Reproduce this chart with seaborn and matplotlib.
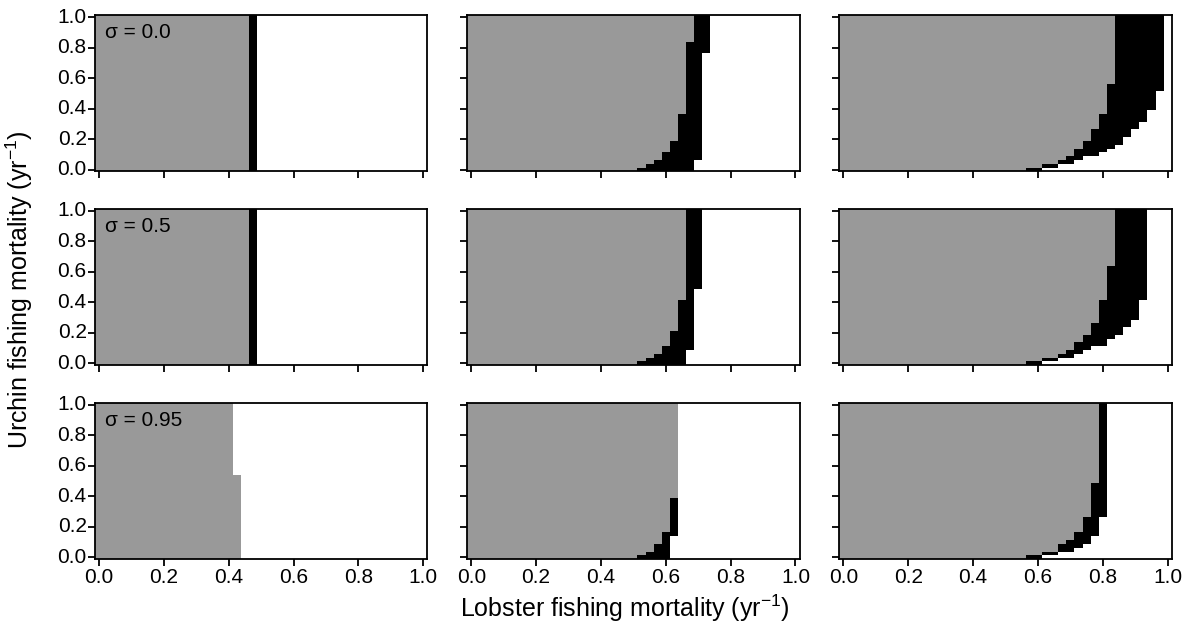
import numpy as np
import pandas as pd
import matplotlib
matplotlib.use("Agg")
import matplotlib.pyplot as plt
import seaborn as sns
from matplotlib.colors import ListedColormap

# ---------------- data ----------------
# grid of fishing mortalities (yr^-1), step 0.025
step = 0.025
lobster_F = np.round(np.arange(0, 41) * step, 3)
urchin_F = np.round(np.arange(0, 41) * step, 3)

sigma_labels = ["σ = 0.0", "σ = 0.5", "σ = 0.95"]
tick_values = [0.0, 0.2, 0.4, 0.6, 0.8, 1.0]
tick_labels = ["0.0", "0.2", "0.4", "0.6", "0.8", "1.0"]

# each entry: (urchin F where step begins, last lobster F inside region)
# gray region = left of gray edge; black band = between gray edge and black edge
gray_edge_00 = [(0.0, 0.45)]
black_edge_00 = [(0.0, 0.475)]
gray_edge_01 = [(0.0, 0.5), (0.025, 0.525), (0.05, 0.55), (0.075, 0.575),
                (0.125, 0.6), (0.2, 0.625), (0.375, 0.65), (0.85, 0.675)]
black_edge_01 = [(0.0, 0.675), (0.075, 0.7), (0.775, 0.725)]
gray_edge_02 = [(0.0, 0.55), (0.025, 0.6), (0.05, 0.65), (0.075, 0.675),
                (0.1, 0.7), (0.15, 0.725), (0.2, 0.75), (0.275, 0.775),
                (0.375, 0.8), (0.575, 0.825)]
black_edge_02 = [(0.0, 0.6), (0.025, 0.65), (0.05, 0.7), (0.075, 0.725),
                 (0.1, 0.775), (0.125, 0.8), (0.15, 0.825), (0.175, 0.85),
                 (0.225, 0.875), (0.275, 0.9), (0.325, 0.925), (0.4, 0.95),
                 (0.525, 0.975)]

gray_edge_10 = [(0.0, 0.45)]
black_edge_10 = [(0.0, 0.475)]
gray_edge_11 = [(0.0, 0.5), (0.025, 0.525), (0.05, 0.55), (0.075, 0.575),
                (0.125, 0.6), (0.225, 0.625), (0.425, 0.65)]
black_edge_11 = [(0.0, 0.65), (0.1, 0.675), (0.5, 0.7)]
gray_edge_12 = [(0.0, 0.55), (0.025, 0.6), (0.05, 0.65), (0.075, 0.675),
                (0.1, 0.7), (0.15, 0.725), (0.2, 0.75), (0.275, 0.775),
                (0.425, 0.8), (0.65, 0.825)]
black_edge_12 = [(0.0, 0.6), (0.025, 0.65), (0.05, 0.7), (0.075, 0.725),
                 (0.1, 0.75), (0.125, 0.8), (0.175, 0.825), (0.2, 0.85),
                 (0.25, 0.875), (0.3, 0.9), (0.425, 0.925)]

gray_edge_20 = [(0.0, 0.425), (0.55, 0.4)]
black_edge_20 = [(0.0, 0.425), (0.55, 0.4)]
gray_edge_21 = [(0.0, 0.5), (0.025, 0.525), (0.05, 0.55), (0.1, 0.575),
                (0.175, 0.6), (0.4, 0.625)]
black_edge_21 = [(0.0, 0.6), (0.15, 0.625)]
gray_edge_22 = [(0.0, 0.55), (0.025, 0.6), (0.05, 0.65), (0.1, 0.675),
                (0.125, 0.7), (0.175, 0.725), (0.275, 0.75), (0.5, 0.775)]
black_edge_22 = [(0.0, 0.6), (0.025, 0.65), (0.05, 0.7), (0.075, 0.725),
                 (0.1, 0.75), (0.15, 0.775), (0.275, 0.8)]

panels = [
    [(gray_edge_00, black_edge_00), (gray_edge_01, black_edge_01), (gray_edge_02, black_edge_02)],
    [(gray_edge_10, black_edge_10), (gray_edge_11, black_edge_11), (gray_edge_12, black_edge_12)],
    [(gray_edge_20, black_edge_20), (gray_edge_21, black_edge_21), (gray_edge_22, black_edge_22)],
]


def edge_at(steps, u):
    val = steps[0][1]
    for start, edge in steps:
        if u >= start - 1e-9:
            val = edge
    return val


def build_grid(gray_steps, black_steps):
    grid = np.zeros((len(urchin_F), len(lobster_F)), dtype=int)
    for r, u in enumerate(urchin_F):
        g = edge_at(gray_steps, u)
        b = edge_at(black_steps, u)
        for c, x in enumerate(lobster_F):
            if x <= g + 1e-9:
                grid[r, c] = 2
            elif x <= b + 1e-9:
                grid[r, c] = 1
    return pd.DataFrame(grid, index=urchin_F, columns=lobster_F)


# ---------------- style ----------------
sns.set_theme(style="white")
plt.rcParams["font.family"] = ["Liberation Sans", "DejaVu Sans"]
plt.rcParams["mathtext.fontset"] = "custom"
plt.rcParams["mathtext.rm"] = "Liberation Sans"
plt.rcParams["mathtext.it"] = "Liberation Sans:italic"
plt.rcParams["text.color"] = "black"
plt.rcParams["axes.labelcolor"] = "black"
plt.rcParams["xtick.color"] = "black"
plt.rcParams["ytick.color"] = "black"

cmap = ListedColormap(["#ffffff", "#000000", "#999999"])

fig, axes = plt.subplots(3, 3, figsize=(11.92, 6.29), dpi=100)
fig.subplots_adjust(left=0.0797, right=0.983, top=0.976, bottom=0.111,
                    wspace=0.12, hspace=0.24)

tick_pos = [round(v / step) + 0.5 for v in tick_values]

for i in range(3):
    for j in range(3):
        ax = axes[i, j]
        gs, bs = panels[i][j]
        df = build_grid(gs, bs)
        sns.heatmap(df, ax=ax, cmap=cmap, vmin=-0.5, vmax=2.5, cbar=False,
                    linewidths=0, rasterized=True)
        ax.set_ylim(0, len(urchin_F))
        ax.set_xlim(0, len(lobster_F))
        for s in ax.spines.values():
            s.set_visible(True)
            s.set_color("black")
            s.set_linewidth(1.3)
        ax.set_xticks(tick_pos)
        ax.set_yticks(tick_pos)
        ax.set_xticklabels(tick_labels if i == 2 else [], rotation=0)
        ax.set_yticklabels(tick_labels if j == 0 else [], rotation=0)
        ax.tick_params(axis="both", which="both", direction="out", length=5,
                       width=1.3, color="black", labelcolor="black",
                       labelsize=15, pad=1,
                       bottom=True, left=True, top=False, right=False)
        ax.set_xlabel("")
        ax.set_ylabel("")
        if j == 0:
            ax.text(0.03, 0.95, sigma_labels[i], transform=ax.transAxes,
                    ha="left", va="top", fontsize=15, color="black")

fig.text(0.524, 0.033, r"Lobster fishing mortality (yr$^{-1}$)",
         ha="center", va="center", fontsize=18, color="black")
fig.text(0.016, 0.54, r"Urchin fishing mortality (yr$^{-1}$)",
         ha="center", va="center", rotation=90, fontsize=18, color="black")

fig.savefig("out.png", dpi=100)
